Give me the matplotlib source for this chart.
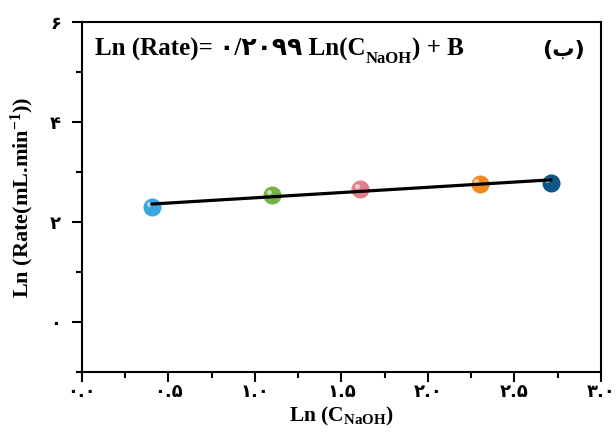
import numpy as np
import matplotlib.pyplot as plt
from matplotlib import transforms

# data
ln_c = [0.405, 1.10, 1.61, 2.30, 2.71]
ln_rate = [2.30, 2.55, 2.67, 2.77, 2.79]
colors = ['#3aa8e0', '#76b346', '#e0808f', '#f5891f', '#0f5687']
slope = 0.2099

xticks = [0.0, 0.5, 1.0, 1.5, 2.0, 2.5, 3.0]
xtick_labels = ['۰.۰', '۰.۵', '۱.۰', '۱.۵', '۲.۰', '۲.۵', '۳.۰']
yticks = [0, 2, 4, 6]
ytick_labels = ['۰', '۲', '۴', '۶']

plt.rcParams['mathtext.fontset'] = 'custom'
plt.rcParams['mathtext.rm'] = 'Liberation Serif:bold'
plt.rcParams['mathtext.bf'] = 'Liberation Serif:bold'
plt.rcParams['mathtext.it'] = 'Liberation Serif:bold'

serif = ['Liberation Serif', 'DejaVu Sans']

fig = plt.figure(figsize=(6.16, 4.34), dpi=100)
ax = fig.add_axes([0.133, 0.143, 0.8425, 0.806])

x = np.array(ln_c)
y = np.array(ln_rate)
B = y.mean() - slope * x.mean()

for xi, yi, c in zip(ln_c, ln_rate, colors):
    ax.plot(xi, yi, 'o', ms=12, color=c, mec=c, zorder=2)
    hl = transforms.offset_copy(ax.transData, fig, x=-2.5, y=2, units='points')
    ax.plot(xi, yi, 'o', ms=3.5, color='white', alpha=0.6, mew=0, transform=hl, zorder=2.5)

xs = np.array([x[0], x[-1]])
ax.plot(xs, slope * xs + B, color='black', lw=2.3, zorder=3)

ax.set_xlim(0, 3)
ax.set_ylim(-1, 6)
ax.set_xticks(xticks)
ax.set_xticklabels(xtick_labels, family='DejaVu Sans', weight='bold', fontsize=13)
ax.set_yticks(yticks)
ax.set_yticklabels(ytick_labels, family='DejaVu Sans', weight='bold', fontsize=13)
ax.set_xticks(np.arange(0.25, 3, 0.5), minor=True)
ax.set_yticks([-1, 1, 3, 5], minor=True)
ax.tick_params(which='major', direction='out', length=7, width=1.5)
ax.tick_params(which='minor', direction='out', length=4, width=1.5)
ax.tick_params(axis='y', pad=8)
ax.tick_params(axis='x', pad=1)
for s in ax.spines.values():
    s.set_linewidth(1.5)

ax.set_xlabel('Ln (C$_{\\mathbf{NaOH}}$)', family='Liberation Serif', weight='bold', fontsize=15.5, labelpad=3)
ax.set_ylabel('Ln (Rate(mL.min$^{\\mathbf{-1}}$))', family='Liberation Serif', weight='bold', fontsize=16, labelpad=10)

ty = 0.903
t1 = ax.text(0.025, ty, 'Ln (Rate)= ۰/۲۰۹۹ Ln(C', transform=ax.transAxes,
             family=serif, weight='bold', fontsize=18, va='baseline')
t2 = ax.annotate('NaOH', xy=(1, ty), xycoords=(t1, ax.transAxes), xytext=(0, -5),
                 textcoords='offset points', family='Liberation Serif', weight='bold',
                 fontsize=12, va='baseline')
t3 = ax.annotate(') + B', xy=(1, ty), xycoords=(t2, ax.transAxes), xytext=(0, 0),
                 textcoords='offset points', family=serif, weight='bold',
                 fontsize=18, va='baseline')
ax.text(0.97, ty, '(ب)', transform=ax.transAxes, family=['DejaVu Sans'], weight='bold',
        fontsize=16, va='baseline', ha='right')

fig.savefig('out.png', dpi=100, facecolor='white')
